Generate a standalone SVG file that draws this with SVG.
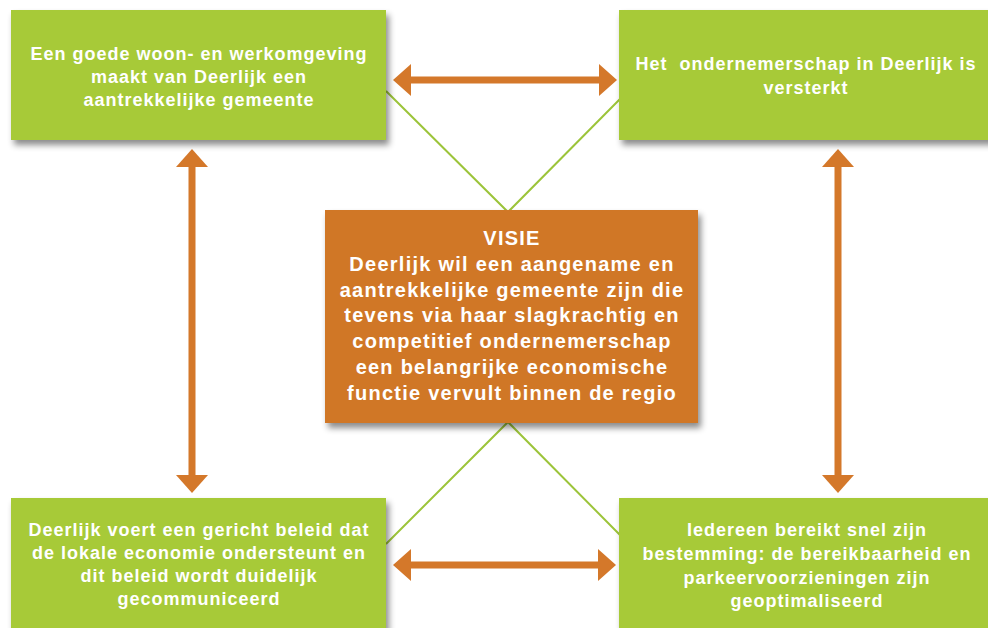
<svg xmlns="http://www.w3.org/2000/svg" width="988" height="628" viewBox="0 0 988 628">
<defs>
<filter id="sh" x="-10%" y="-10%" width="125%" height="130%">
<feDropShadow dx="3" dy="5" stdDeviation="3" flood-color="#000" flood-opacity="0.45"/>
</filter>
<marker id="ah" viewBox="0 0 18 32" refX="10" refY="16" markerWidth="18" markerHeight="32" markerUnits="userSpaceOnUse" orient="auto-start-reverse">
<path d="M0,0 L18,16 L0,32 z" fill="#D4782A"/>
</marker>
<style>
.g{fill:#A7CA38;filter:url(#sh)}
.o{fill:#D07726;filter:url(#sh)}
.t{font-family:"Liberation Sans",Arial,sans-serif;font-weight:bold;font-size:18px;letter-spacing:1px;fill:#fff;text-anchor:middle}
.tc{font-family:"Liberation Sans",Arial,sans-serif;font-weight:bold;font-size:20px;letter-spacing:1.25px;fill:#fff;text-anchor:middle}
.a{stroke:#D4782A;stroke-width:7;fill:none;marker-start:url(#ah);marker-end:url(#ah)}
.l{stroke:#9CC43A;stroke-width:2;fill:none}
</style>
</defs>
<rect width="988" height="628" fill="#fff"/>
<g id="connectors">
<path class="l" d="M386,91 L508,212 L620,99"/>
<path class="l" d="M386,544 L508,422 L620,535"/>
<path class="a" d="M401,80 L609,80"/>
<path class="a" d="M401,565 L608,565"/>
<path class="a" d="M192,157 L192,485"/>
<path class="a" d="M838,157 L838,485"/>
</g>
<g id="node-tl">
<rect class="g" x="11" y="10" width="375" height="130"/>
<text class="t" x="199" y="60">Een goede woon- en werkomgeving</text>
<text class="t" x="199" y="83">maakt van Deerlijk een</text>
<text class="t" x="199" y="106">aantrekkelijke gemeente</text>
</g>
<g id="node-tr">
<rect class="g" x="619" y="10" width="375" height="130"/>
<text class="t" x="806" y="70" xml:space="preserve">Het  ondernemerschap in Deerlijk is</text>
<text class="t" x="806" y="94">versterkt</text>
</g>
<g id="node-center">
<rect class="o" x="325" y="210" width="373" height="213"/>
<text class="tc" x="512" y="245">VISIE</text>
<text class="tc" x="512" y="271">Deerlijk wil een aangename en</text>
<text class="tc" x="512" y="297">aantrekkelijke gemeente zijn die</text>
<text class="tc" x="512" y="322">tevens via haar slagkrachtig en</text>
<text class="tc" x="512" y="348">competitief ondernemerschap</text>
<text class="tc" x="512" y="374">een belangrijke economische</text>
<text class="tc" x="512" y="400">functie vervult binnen de regio</text>
</g>
<g id="node-bl">
<rect class="g" x="11" y="498" width="375" height="140"/>
<text class="t" x="199" y="536">Deerlijk voert een gericht beleid dat</text>
<text class="t" x="199" y="559">de lokale economie ondersteunt en</text>
<text class="t" x="199" y="582">dit beleid wordt duidelijk</text>
<text class="t" x="199" y="605">gecommuniceerd</text>
</g>
<g id="node-br">
<rect class="g" x="619" y="498" width="375" height="140"/>
<text class="t" x="807" y="536">Iedereen bereikt snel zijn</text>
<text class="t" x="807" y="560">bestemming: de bereikbaarheid en</text>
<text class="t" x="807" y="584">parkeervoorzieningen zijn</text>
<text class="t" x="807" y="607">geoptimaliseerd</text>
</g>
</svg>
